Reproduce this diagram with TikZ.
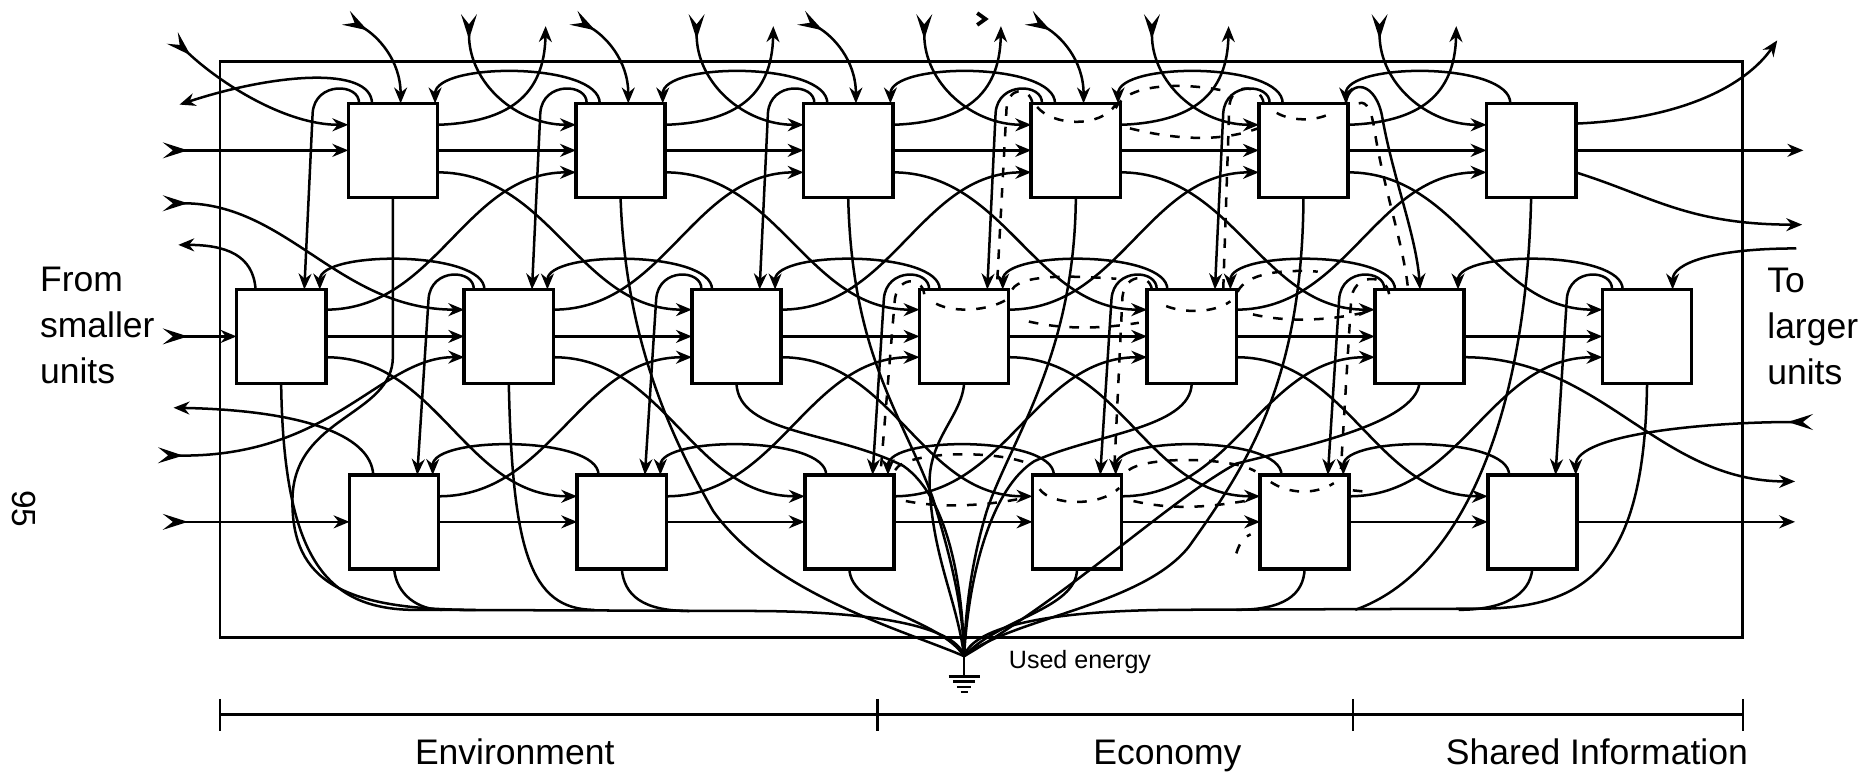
\documentclass[tikz,border=0pt]{standalone}
\usepackage{fontspec}
\setmainfont{Liberation Sans}
\usetikzlibrary{arrows.meta, calc}

\begin{document}
\begin{tikzpicture}[x=0.1mm, y=-0.1mm,
    unit/.style={draw, line width=0.85pt, minimum width=7.5mm, minimum height=7.9mm, inner sep=0pt, outer sep=0pt},
    flow/.style={line width=0.6pt, -{Stealth[length=3.8pt,width=3.1pt]}},
    feed/.style={line width=0.6pt, {Stealth[reversed,length=6pt,width=3.8pt,inset=2.4pt]}-{Stealth[length=3.8pt,width=3.1pt]}},
    sink/.style={line width=0.6pt},
    trail/.style={line width=0.6pt, dash pattern=on 2.3pt off 2.6pt},
    lbl/.style={font=\fontsize{8.5}{11}\selectfont, inner sep=0pt, align=left}]
    \useasboundingbox (0,0) rectangle (1568,653);

    % system frame
    \draw[line width=0.65pt] (185,52) rectangle (1466,536);

    % units, three rows
    \foreach \k in {0,...,5} \node[unit] (a\k) at ({330.5+191.5*\k},126.5) {};
    \foreach \k in {0,...,6} \node[unit] (b\k) at ({236.5+191.5*\k},283) {};
    \foreach \k in {0,...,5} \node[unit] (c\k) at ({331.5+191.5*\k},439) {};

    % free ends
    \coordinate (inA) at (137,126.5);
    \coordinate (inB) at (137,171);
    \coordinate (inC) at (137,283);
    \coordinate (inD) at (133,383);
    \coordinate (inE) at (137,439);
    \coordinate (inF) at (145,32);
    \coordinate (inG) at (1525,355);
    \coordinate (inH) at (1511,209);
    \coordinate (outA) at (151,88);
    \coordinate (outB) at (150,206);
    \coordinate (outC) at (146,343);
    \coordinate (outD) at (1517,126.5);
    \coordinate (outE) at (1495,34);
    \coordinate (outF) at (1516,189);
    \coordinate (outG) at (1510,405);
    \coordinate (outH) at (1510,439);
    \coordinate (gnd) at (811,552);
    \coordinate (cl) at (640,514);
    \coordinate (cr) at (985,513);

    % flows along the rows
    \foreach \k [evaluate=\k as \j using int(\k+1)] in {0,...,4} {
        \draw[flow] (a\k.east) -- (a\j.west);
        \draw[flow] (c\k.east) -- (c\j.west);
    }
    \foreach \k [evaluate=\k as \j using int(\k+1)] in {0,...,5}
        \draw[flow] (b\k.east) -- (b\j.west);

    % flows between the rows
    \foreach \k [evaluate=\k as \j using int(\k+1), evaluate=\k as \m using int(\k+2)] in {0,...,4} {
        \draw[flow] ($(a\k.south east)+(0,-21)$) to[out=0,in=180] ($(b\m.north west)+(0,17)$);
        \draw[flow] ($(b\k.north east)+(0,17)$) to[out=0,in=180] ($(a\j.south west)+(0,-21)$);
        \draw[flow] ($(b\k.south east)+(0,-22)$) to[out=0,in=180] ($(c\j.north west)+(0,18)$);
        \draw[flow] ($(c\k.north east)+(0,18)$) to[out=0,in=180] ($(b\m.south west)+(0,-22)$);
        \draw[flow] ($(a\k.north east)+(0,18)$) .. controls +(60,-2) and +(-1,58) .. ($(a\k.north east)+(91,-65)$);
        \draw[flow] ($(a\k.north west)+(9,0)$) .. controls +(1,-17) and +(2,-27) .. ($(a\k.north west)+(-30,8)$) -- ($(b\k.north west)+(57,0)$);
    }

    % feedback loops over the tops
    \foreach \k [evaluate=\k as \j using int(\k-1)] in {1,...,5} {
        \draw[flow] ($(a\k.north west)+(20,0)$) .. controls +(0,-35) and +(0,-35) .. ($(a\j.north west)+(73,0)$);
        \draw[flow] ($(c\k.north west)+(18,0)$) .. controls +(0,-33) and +(0,-33) .. ($(c\j.north west)+(70,0)$);
        \draw[feed] ($(a\k.north west)+(-90,-75)$) .. controls +(0,58) and +(-50,0) .. ($(a\k.north west)+(0,18)$);
    }
    \foreach \k [evaluate=\k as \j using int(\k-1)] in {1,...,6} {
        \draw[flow] ($(b\k.north west)+(17,0)$) .. controls +(0,-33) and +(0,-33) .. ($(b\j.north west)+(70,0)$);
        \draw[flow] ($(b\k.north west)+(8,0)$) .. controls +(1,-17) and +(2,-27) .. ($(b\k.north west)+(-30,8)$) -- ($(c\j.north west)+(57,0)$);
    }
    \foreach \k in {0,...,3}
        \draw[feed] ($(a\k.north west)+(-2,-72)$) .. controls +(26,15) and +(0,-37) .. ($(a\k.north west)+(44,0)$);
    \draw[flow] ($(a4.north east)+(-2,0)$) .. controls +(3,-21) and +(-5,-32) .. ($(a4.north east)+(29,13)$) .. controls +(9,50) and +(-3,-44) .. ($(b5.north west)+(38,0)$);
    \draw[line width=0.9pt] (822,11) -- (829,16) -- (822,21);

    % from smaller units
    \draw[flow] ($(a0.north west)+(20,0)$) .. controls +(-1,-32) and +(79,-26) .. (outA);
    \draw[flow] ($(b0.north west)+(16,0)$) .. controls +(-2,-29) and +(40,0) .. (outB);
    \draw[flow] ($(c0.north west)+(20,0)$) .. controls +(-2,-35) and +(104,2) .. (outC);
    \draw[feed] (inA) -- (inA -| a0.west);
    \draw[feed] (inB) to[out=0,in=180] ($(b1.north west)+(0,17)$);
    \draw[feed] (inC) -- (inC -| b0.west);
    \draw[feed] (inD) .. controls (280,385) and (320,300) .. ($(b1.south west)+(0,-22)$);
    \draw[feed] (inE) -- (inE -| c0.west);
    \draw[feed] (inF) .. controls +(40,38) and +(-53,0) .. ($(a0.north west)+(0,18)$);

    % to larger units
    \draw[flow] (a5.east) -- (outD);
    \draw[flow] ($(a5.north east)+(0,17)$) .. controls +(93,-4) and +(-25,36) .. (outE);
    \draw[flow] ($(a5.south east)+(0,-21)$) .. controls +(64,20) and +(-96,0) .. (outF);
    \draw[flow] ($(b5.south east)+(0,-22)$) to[out=0,in=180] (outG);
    \draw[flow] (c5.east) -- (outH);
    \draw[flow] (inH) .. controls +(-70,0) and +(0,-22) .. ($(b6.north west)+(59,0)$);
    \draw[feed] (inG) .. controls +(-85,0) and +(0,-35) .. ($(c5.north west)+(74,0)$);

    % used energy to the sink
    \draw[sink] (b0.south) .. controls +(2,148) and +(-70,-2) .. (345,513) -- (cl) .. controls +(110,1) and +(-6,-22) .. (gnd);
    \draw[sink] (b6.south) .. controls +(-2,148) and +(90,-2) .. (1250,512) -- (cr) .. controls +(-115,1) and +(7,-22) .. (gnd);
    \draw[sink] (c0.south) .. controls +(2,22) and +(-20,0) .. (372,513);
    \draw[sink] (a0.south) -- ++(0,134) .. controls +(0,50) and +(1,-70) .. (246,420) .. controls +(-1,70) and +(-110,0) .. (400,513);
    \draw[sink] (b1.south) .. controls +(3,138) and +(-55,0) .. (500,513);
    \draw[sink] (c1.south) .. controls +(2,22) and +(-40,0) .. (580,514);
    \draw[sink] (a1.south) .. controls +(4,114) and +(-40,-70) .. (600,430) .. controls +(50,70) and +(-51,-22) .. (gnd);
    \draw[sink] (b2.south) .. controls +(2,43) and +(-60,-30) .. (760,392) .. controls +(40,28) and +(-1,-52) .. (gnd);
    \draw[sink] (a2.south) .. controls +(3,134) and +(-25,-70) .. (785,420) .. controls +(15,50) and +(-1,-42) .. (gnd);
    \draw[sink] (b3.south) .. controls +(-2,28) and +(-2,-40) .. (782,410) .. controls +(3,60) and +(-6,-47) .. (gnd);
    \draw[sink] (c2.south) .. controls +(1,34) and +(-21,-32) .. (gnd);
    \draw[sink] (a3.south) .. controls +(-1,134) and +(20,-60) .. (830,430) .. controls +(-12,40) and +(1,-42) .. (gnd);
    \draw[sink] (b4.south) .. controls +(-1,38) and +(50,-23) .. (870,388) .. controls +(-35,22) and +(4,-72) .. (gnd);
    \draw[sink] (c3.south) .. controls +(0,34) and +(29,-32) .. (gnd);
    \draw[sink] (a4.south) .. controls +(-1,154) and +(50,-70) .. (1000,460) .. controls +(-40,50) and +(39,-32) .. (gnd);
    \draw[sink] (b5.south) .. controls +(-4,33) and +(60,-15) .. (1040,390) .. controls +(-55,30) and +(95,-56) .. (gnd);
    \draw[sink] (c4.south) .. controls +(-1,22) and +(40,0) .. (1040,513);
    \draw[sink] (a5.south) .. controls +(-4,184) and +(90,-32) .. (1140,513);
    \draw[sink] (c5.south) .. controls +(-2,22) and +(38,0) .. (1227,513);
    \draw[sink] (gnd) -- ++(0,17);
    \draw[sink] ($(gnd)+(-13,17)$) -- ++(26,0);
    \draw[sink] ($(gnd)+(-9,21.5)$) -- ++(18,0);
    \draw[sink] ($(gnd)+(-6,26)$) -- ++(12,0);
    \draw[sink] ($(gnd)+(-3,30)$) -- ++(6,0);

    % economy trail
    \draw[trail] ($(a3.north west)+(5,3)$) .. controls +(13,16) and +(-13,20) .. ($(a3.north west)+(71,1)$);
    \draw[trail] ($(a4.north west)+(15,8)$) .. controls +(12,7) and +(-12,6) .. ($(a4.north west)+(59,9)$);
    \draw[trail] ($(a3.north east)+(8,21)$) .. controls +(40,10) and +(-32,14) .. ($(a4.north west)+(4,19)$);
    \draw[trail] ($(a3.north east)+(-4,4)$) .. controls +(10,-22) and +(-30,-6) .. ($(a4.north west)+(-31,-11)$);
    \draw[trail] ($(a3.north west)+(1,0)$) .. controls +(-2,-14) and +(0,-24) .. ($(a3.north west)+(-21,8)$) -- ($(b3.north west)+(65,0)$);
    \draw[trail] ($(a4.north west)+(4,0)$) .. controls +(-2,-16) and +(0,-24) .. ($(a4.north west)+(-25,5)$) -- ($(b4.north west)+(64,0)$);
    \draw[trail] ($(a4.north east)+(9,0)$) .. controls +(7,-3) and +(-2,-13) .. ($(a4.north east)+(22,21)$) .. controls +(8,52) and +(-4,-39) .. ($(b5.north west)+(28,0)$);
    \draw[trail] ($(b3.north west)+(14,12)$) .. controls +(15,8) and +(-15,10) .. ($(b3.north west)+(74,8)$);
    \draw[trail] ($(b4.north west)+(16,14)$) .. controls +(15,6) and +(-14,10) .. ($(b4.north west)+(70,10)$);
    \draw[trail] ($(b3.north east)+(17,27)$) .. controls +(30,7) and +(-30,5) .. ($(b4.north west)+(-7,28)$);
    \draw[trail] ($(b4.north east)+(14,21)$) .. controls +(30,7) and +(-30,7) .. ($(b5.north west)+(-7,19)$);
    \draw[trail] ($(b3.north east)+(3,0)$) .. controls +(8,-14) and +(-30,-2) .. ($(b4.north west)+(-26,-9)$);
    \draw[trail] ($(b4.north east)+(1,2)$) .. controls +(8,-16) and +(-30,-2) .. ($(b5.north west)+(-48,-15)$);
    \draw[trail] ($(b3.north west)+(4,4)$) .. controls +(-2,-16) and +(1,-22) .. ($(b3.north west)+(-21,11)$) -- ($(c2.north west)+(64,-5)$);
    \draw[trail] ($(b4.north west)+(4,0)$) .. controls +(-2,-14) and +(0,-24) .. ($(b4.north west)+(-21,10)$) -- ($(c3.north west)+(69,-8)$);
    \draw[trail] ($(b5.north west)+(12,4)$) .. controls +(-2,-18) and +(1,-24) .. ($(b5.north west)+(-20,10)$) -- ($(c4.north west)+(68,-5)$);
    \draw[trail] ($(c2.north east)+(1,-4)$) .. controls +(8,-16) and +(-28,-14) .. ($(c3.north west)+(0,-8)$);
    \draw[trail] ($(c2.north east)+(10,22)$) .. controls +(30,6) and +(-30,6) .. ($(c3.north west)+(-10,20)$);
    \draw[trail] ($(c3.north west)+(6,12)$) .. controls +(10,14) and +(-16,16) .. ($(c3.north west)+(73,11)$);
    \draw[trail] ($(c3.north east)+(10,22)$) .. controls +(35,8) and +(-35,6) .. ($(c4.north west)+(-7,21)$);
    \draw[trail] ($(c3.north east)+(6,-4)$) .. controls +(15,-12) and +(-20,-12) .. ($(c4.north west)+(-4,-3)$);
    \draw[trail] ($(c4.north west)+(9,6)$) .. controls +(15,10) and +(-16,10) .. ($(c4.north west)+(62,7)$);
    \draw[trail] ($(c4.north east)+(3,13)$) -- ++(10,1);
    \draw[trail] ($(c4.south west)+(-20,-13)$) .. controls +(3,-10) and +(-5,2) .. ($(c4.south west)+(-8,-29)$);

    % labels
    \node[lbl, anchor=north west] (from) at (33,224) {From\\smaller\\units};
    \node[lbl, anchor=north west] (to) at (1486,225) {To\\larger\\units};
    \node[font=\fontsize{6}{7}\selectfont, inner sep=0pt, anchor=base west] (used) at (848,562) {Used energy};
    \node[font=\fontsize{8}{9}\selectfont, inner sep=0pt, rotate=-90] (page) at (20,428) {95};

    % sector scale
    \draw[line width=0.6pt] (185,601) -- (1466,601);
    \foreach \x in {185,738,1138,1466} \draw[line width=0.6pt] (\x,588) -- (\x,615);
    \node[lbl, anchor=base] (env) at (433,643) {Environment};
    \node[lbl, anchor=base] (eco) at (982,643) {Economy};
    \node[lbl, anchor=base east] (shared) at (1471,643) {Shared Information};
\end{tikzpicture}
\end{document}
